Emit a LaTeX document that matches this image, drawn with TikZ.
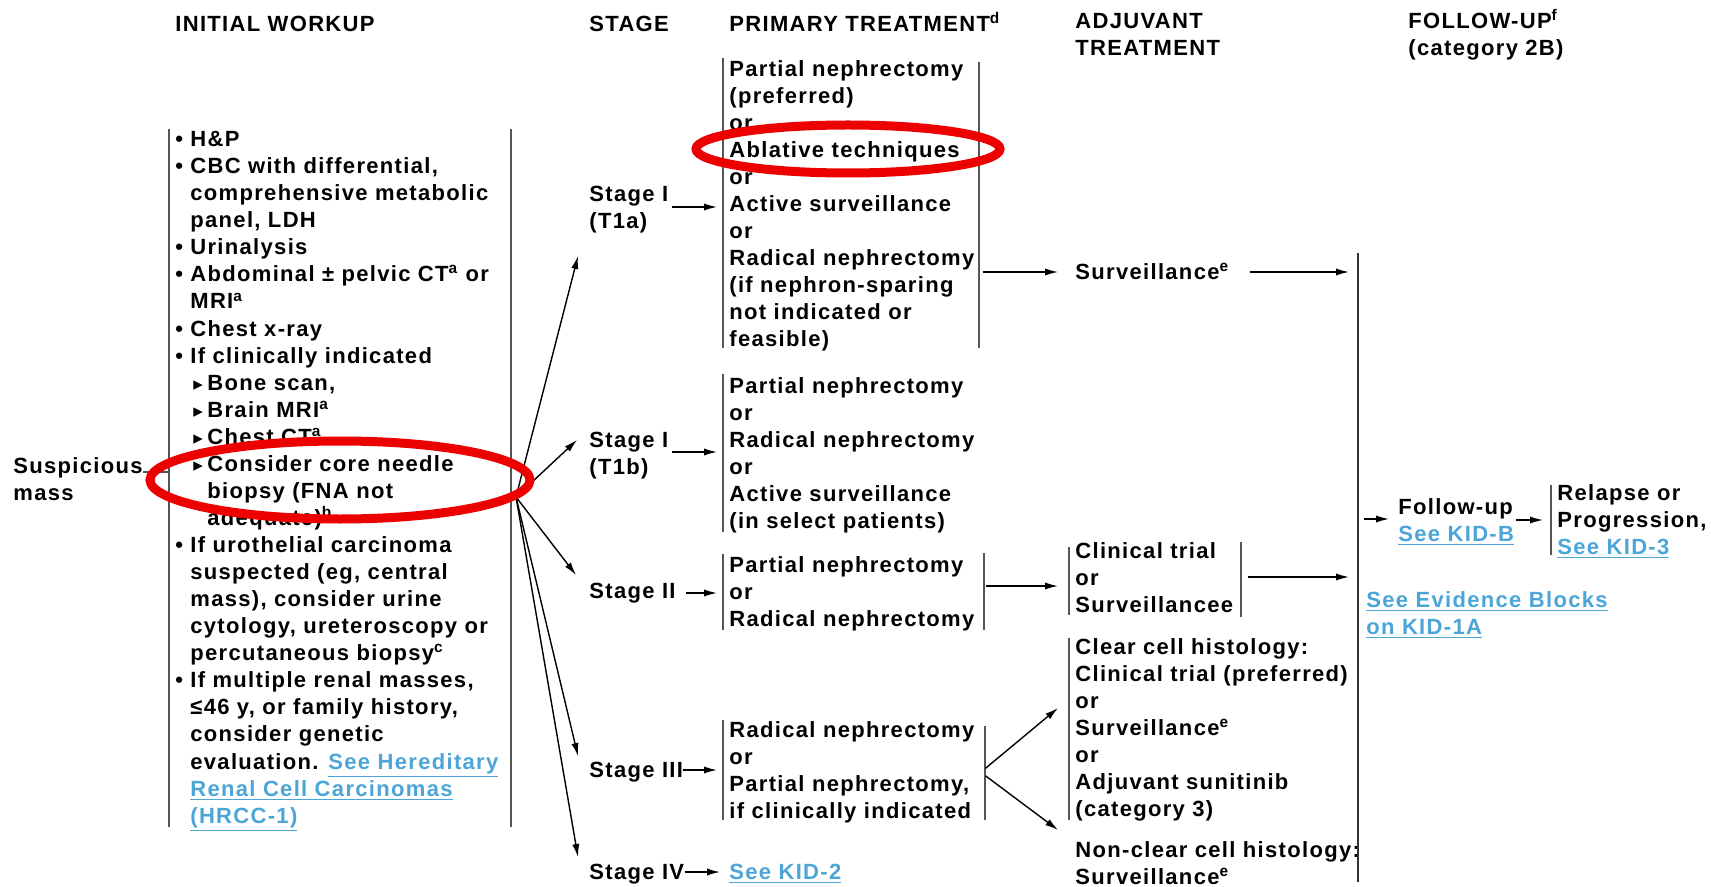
\documentclass[tikz,border=0pt]{standalone}
\usepackage{fontspec}
\usepackage{xcolor}
\usetikzlibrary{arrows.meta}
\newfontfamily\kidfont[LetterSpace=6]{Liberation Sans}
\newfontfamily\trifont{DejaVu Sans}
\definecolor{linkblue}{RGB}{75, 165, 215}
\definecolor{ringred}{RGB}{236, 0, 0}
\definecolor{bargray}{RGB}{85, 85, 85}
\newcommand{\fn}[1]{\smash{\textsuperscript{#1}}}
\newcommand{\lnk}[1]{\textcolor{linkblue}{\underline{#1}}}
\newcommand{\wb}{\makebox[7.5pt][l]{•}}
\newcommand{\wi}{\hspace*{7.5pt}}
\newcommand{\ws}{\hspace*{9pt}\makebox[7pt][l]{\trifont\fontsize{9.5}{9.5}\selectfont ▸}}
\newcommand{\wsi}{\hspace*{16pt}}
\tikzset{txt/.style = {font = \kidfont\bfseries\fontsize{11}{13.53}\selectfont,
                       align = left, inner sep = 0pt, anchor = north west},
         one/.style = {txt, anchor = base west},
         boxtxt/.style = {txt, inner xsep = 3pt},
         bar/.style = {draw = bargray, line width = 1pt},
         arr/.style = {-{Latex[length = 6.5pt, width = 3.6pt]}, line width = 0.7pt},
         ring/.style = {draw = ringred, line width = 4.5pt}}

\begin{document}
\begin{tikzpicture}[x = 0.5pt, y = -0.5pt]
      \useasboundingbox (0, 0) rectangle (1711, 887);
      \node (hwork) at (175, 31.5) [one] {INITIAL WORKUP};
      \node (hstage) at (589, 31.5) [one] {STAGE};
      \node (hprim) at (729, 31.5) [one] {PRIMARY TREATMENT\fn{d}};
      \node (hadj) at (1075, 13) [txt] {ADJUVANT\\TREATMENT};
      \node (hfol) at (1408, 13) [txt] {FOLLOW-UP\fn{f}\\(category 2B)};
      \node (mass) at (13, 457) [txt] {Suspicious\\mass};
      \node (work) at (169, 131) [boxtxt] {\wb H\&P\\
        \wb CBC with differential,\\ \wi comprehensive metabolic\\ \wi panel, LDH\\
        \wb Urinalysis\\
        \wb Abdominal ± pelvic CT\fn{a} or\\ \wi MRI\fn{a}\\
        \wb Chest x-ray\\
        \wb If clinically indicated\\ \ws Bone scan,\\ \ws Brain MRI\fn{a}\\ \ws Chest CT\fn{a}\\
        \ws Consider core needle\\ \wsi biopsy (FNA not\\ \wsi adequate)\fn{b}\\
        \wb If urothelial carcinoma\\ \wi suspected (eg, central\\ \wi mass), consider urine\\
        \wi cytology, ureteroscopy or\\ \wi percutaneous biopsy\fn{c}\\
        \wb If multiple renal masses,\\ \wi ≤46 y, or family history,\\ \wi consider genetic\\
        \wi evaluation. \lnk{See Hereditary}\\ \wi \lnk{Renal Cell Carcinomas}\\ \wi \lnk{(HRCC-1)}};
      \node (s1a) at (589, 186) [txt] {Stage I\\(T1a)};
      \node (s1b) at (589, 432) [txt] {Stage I\\(T1b)};
      \node (s2) at (589, 598.5) [one] {Stage II};
      \node (s3) at (589, 777.5) [one] {Stage III};
      \node (s4) at (589, 879.5) [one] {Stage IV};
      \node (tonea) at (723, 60) [boxtxt] {Partial nephrectomy\\(preferred)\\or\\Ablative techniques\\or\\
        Active surveillance\\or\\Radical nephrectomy\\(if nephron-sparing\\not indicated or\\feasible)};
      \node (toneb) at (723, 377) [boxtxt] {Partial nephrectomy\\or\\Radical nephrectomy\\or\\
        Active surveillance\\(in select patients)};
      \node (ttwo) at (723, 556) [boxtxt] {Partial nephrectomy\\or\\Radical nephrectomy};
      \node (tthree) at (723, 721) [boxtxt] {Radical nephrectomy\\or\\Partial nephrectomy,\\if clinically indicated};
      \node (kid2) at (729, 879.5) [one] {\lnk{See KID-2}};
      \node (surv) at (1075, 279.5) [one] {Surveillance\fn{e}};
      \node (clin) at (1069, 542) [boxtxt] {Clinical trial\\or\\Surveillancee};
      \node (clear) at (1069, 638) [boxtxt] {Clear cell histology:\\Clinical trial (preferred)\\or\\
        Surveillance\fn{e}\\or\\Adjuvant sunitinib\\(category 3)};
      \node (nonclear) at (1075, 841) [txt] {Non-clear cell histology:\\Surveillance\fn{e}};
      \node (fu) at (1398, 498) [txt] {Follow-up\\\lnk{See KID-B}};
      \node (relapse) at (1551, 484) [boxtxt] {Relapse or\\Progression,\\\lnk{See KID-3}};
      \node (evid) at (1366, 591) [txt] {\lnk{See Evidence Blocks}\\\lnk{on KID-1A}};
      \foreach \bx/\btop/\bbot in {169/129/827, 511/129/827, 723/58/348, 979/62/348, 723/374/532,
                                   723/554/630, 984/553/630, 723/720/820, 985/726/820,
                                   1069/547/615, 1241/542/617, 1069/638/820, 1551/485/555}
        \draw [bar] (\bx, \btop) -- (\bx, \bbot);
      \coordinate (fut) at (1358, 253);
      \coordinate (fub) at (1358, 882);
      \draw [bar, draw = black!80] (fut) -- (fub);
      \draw [draw = bargray, line width = 0.7pt] (mass.east |- 0, 472) -- (work.west |- 0, 472);
      \coordinate (fan) at (516, 497);
      \coordinate (in1a) at (578, 256);
      \coordinate (in1b) at (577, 440);
      \coordinate (in2) at (576, 575);
      \coordinate (in3) at (578, 756);
      \coordinate (in4) at (578, 857);
      \foreach \c in {in1a, in1b, in2, in3, in4}
        \draw [arr] (fan) -- (\c);
      \draw [arr, shorten <= 1.5pt, shorten >= 3pt] (s1a.east |- 0, 207) -- (tonea.west |- 0, 207);
      \draw [arr, shorten <= 1.5pt, shorten >= 3pt] (s1b.east |- 0, 452) -- (toneb.west |- 0, 452);
      \draw [arr, shorten <= 5pt, shorten >= 3pt] (s2.east |- 0, 593) -- (ttwo.west |- 0, 593);
      \draw [arr, shorten >= 3pt] (s3.east |- 0, 770) -- (tthree.west |- 0, 770);
      \draw [arr, shorten >= 4.5pt] (s4.east |- 0, 872) -- (kid2.west |- 0, 872);
      \draw [arr, shorten <= 1pt, shorten >= 8.5pt] (tonea.east |- 0, 272) -- (surv.west |- 0, 272);
      \draw [arr, shorten <= 10pt, shorten >= 4.5pt] (surv.east |- 0, 272) -- (fut |- 0, 272);
      \draw [arr, shorten <= 2.5pt, shorten >= 5.5pt] (ttwo.east |- 0, 586) -- (clin.west |- 0, 586);
      \draw [arr, shorten <= 4pt, shorten >= 4.5pt] (clin.east |- 0, 577) -- (fut |- 0, 577);
      \coordinate (ccin) at (1058, 708);
      \coordinate (nccin) at (1058, 830);
      \draw [arr, shorten <= 3pt] (tthree.east) -- (ccin);
      \draw [arr, shorten <= 3pt] (tthree.east) -- (nccin);
      \draw [arr, shorten <= 3pt, shorten >= 4.5pt] (fut |- 0, 519) -- (fu.west |- 0, 519);
      \draw [arr, shorten <= 1pt, shorten >= 4pt] (fu.east |- 0, 520) -- (relapse.west |- 0, 520);
      \draw [ring] (340, 480) ellipse [x radius = 95pt, y radius = 19.5pt];
      \draw [ring] (848, 149) ellipse [x radius = 76pt, y radius = 12pt];
    \end{tikzpicture}
\end{document}
